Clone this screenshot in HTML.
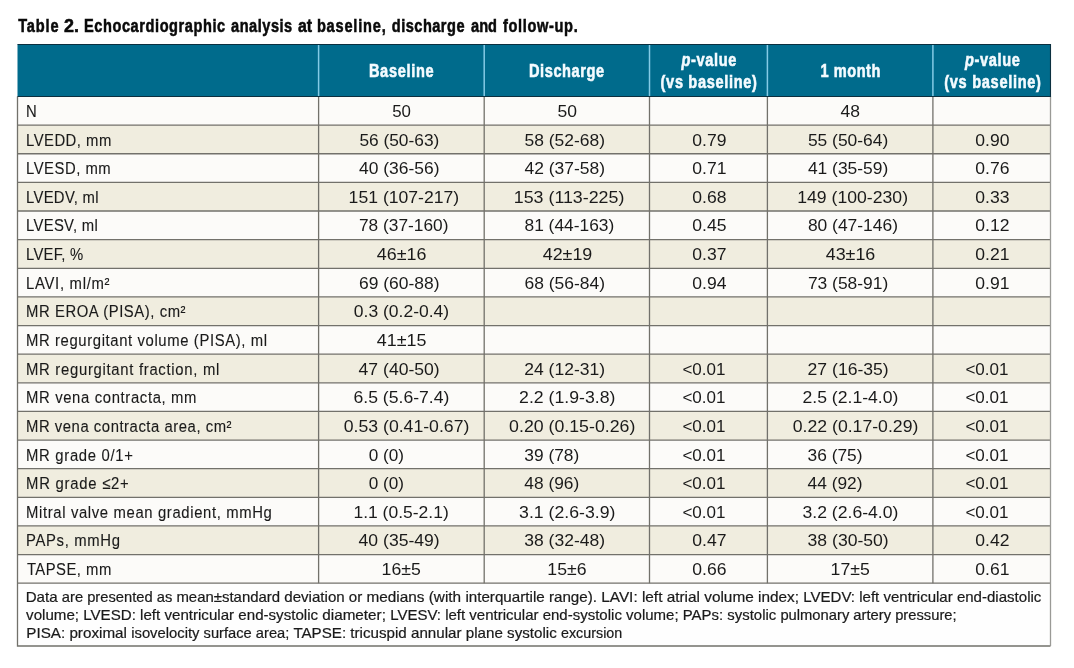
<!DOCTYPE html>
<html lang="en"><head><meta charset="utf-8"><title>Table 2. Echocardiographic analysis</title>
<style>
html,body{margin:0;padding:0;background:#fff;width:1074px;height:668px;overflow:hidden}
svg{display:block;font-family:"Liberation Sans",Arial,sans-serif}
text{white-space:pre}
svg{will-change:transform}
</style></head><body>
<svg width="1074" height="668" viewBox="0 0 1074 668">
<rect x="0" y="0" width="1074" height="668" fill="#ffffff"/>
<rect x="17.5" y="96.50" width="1033.0" height="28.63" fill="#fcfbf9"/>
<rect x="17.5" y="125.13" width="1033.0" height="28.63" fill="#f0eddf"/>
<rect x="17.5" y="153.76" width="1033.0" height="28.63" fill="#fcfbf9"/>
<rect x="17.5" y="182.39" width="1033.0" height="28.63" fill="#f0eddf"/>
<rect x="17.5" y="211.02" width="1033.0" height="28.63" fill="#fcfbf9"/>
<rect x="17.5" y="239.65" width="1033.0" height="28.63" fill="#f0eddf"/>
<rect x="17.5" y="268.28" width="1033.0" height="28.63" fill="#fcfbf9"/>
<rect x="17.5" y="296.91" width="1033.0" height="28.63" fill="#f0eddf"/>
<rect x="17.5" y="325.54" width="1033.0" height="28.63" fill="#fcfbf9"/>
<rect x="17.5" y="354.16" width="1033.0" height="28.63" fill="#f0eddf"/>
<rect x="17.5" y="382.79" width="1033.0" height="28.63" fill="#fcfbf9"/>
<rect x="17.5" y="411.42" width="1033.0" height="28.63" fill="#f0eddf"/>
<rect x="17.5" y="440.05" width="1033.0" height="28.63" fill="#fcfbf9"/>
<rect x="17.5" y="468.68" width="1033.0" height="28.63" fill="#f0eddf"/>
<rect x="17.5" y="497.31" width="1033.0" height="28.63" fill="#fcfbf9"/>
<rect x="17.5" y="525.94" width="1033.0" height="28.63" fill="#f0eddf"/>
<rect x="17.5" y="554.57" width="1033.0" height="28.63" fill="#fcfbf9"/>
<rect x="17.5" y="583.20" width="1033.0" height="62.80" fill="#fefefe"/>
<rect x="17.5" y="44.5" width="1033.0" height="52.0" fill="#006b8c"/>
<line x1="17.5" y1="125.13" x2="1050.5" y2="125.13" stroke="#72716b" stroke-width="1.3"/>
<line x1="17.5" y1="153.76" x2="1050.5" y2="153.76" stroke="#72716b" stroke-width="1.3"/>
<line x1="17.5" y1="182.39" x2="1050.5" y2="182.39" stroke="#72716b" stroke-width="1.3"/>
<line x1="17.5" y1="211.02" x2="1050.5" y2="211.02" stroke="#72716b" stroke-width="1.3"/>
<line x1="17.5" y1="239.65" x2="1050.5" y2="239.65" stroke="#72716b" stroke-width="1.3"/>
<line x1="17.5" y1="268.28" x2="1050.5" y2="268.28" stroke="#72716b" stroke-width="1.3"/>
<line x1="17.5" y1="296.91" x2="1050.5" y2="296.91" stroke="#72716b" stroke-width="1.3"/>
<line x1="17.5" y1="325.54" x2="1050.5" y2="325.54" stroke="#72716b" stroke-width="1.3"/>
<line x1="17.5" y1="354.16" x2="1050.5" y2="354.16" stroke="#72716b" stroke-width="1.3"/>
<line x1="17.5" y1="382.79" x2="1050.5" y2="382.79" stroke="#72716b" stroke-width="1.3"/>
<line x1="17.5" y1="411.42" x2="1050.5" y2="411.42" stroke="#72716b" stroke-width="1.3"/>
<line x1="17.5" y1="440.05" x2="1050.5" y2="440.05" stroke="#72716b" stroke-width="1.3"/>
<line x1="17.5" y1="468.68" x2="1050.5" y2="468.68" stroke="#72716b" stroke-width="1.3"/>
<line x1="17.5" y1="497.31" x2="1050.5" y2="497.31" stroke="#72716b" stroke-width="1.3"/>
<line x1="17.5" y1="525.94" x2="1050.5" y2="525.94" stroke="#72716b" stroke-width="1.3"/>
<line x1="17.5" y1="554.57" x2="1050.5" y2="554.57" stroke="#72716b" stroke-width="1.3"/>
<line x1="17.5" y1="583.20" x2="1050.5" y2="583.20" stroke="#72716b" stroke-width="1.3"/>
<line x1="318.6" y1="96.5" x2="318.6" y2="583.20" stroke="#72716b" stroke-width="1.3"/>
<line x1="318.6" y1="44.5" x2="318.6" y2="96.5" stroke="#84cbe6" stroke-width="1.5"/>
<line x1="484.2" y1="96.5" x2="484.2" y2="583.20" stroke="#72716b" stroke-width="1.3"/>
<line x1="484.2" y1="44.5" x2="484.2" y2="96.5" stroke="#84cbe6" stroke-width="1.5"/>
<line x1="649.5" y1="96.5" x2="649.5" y2="583.20" stroke="#72716b" stroke-width="1.3"/>
<line x1="649.5" y1="44.5" x2="649.5" y2="96.5" stroke="#84cbe6" stroke-width="1.5"/>
<line x1="767.4" y1="96.5" x2="767.4" y2="583.20" stroke="#72716b" stroke-width="1.3"/>
<line x1="767.4" y1="44.5" x2="767.4" y2="96.5" stroke="#84cbe6" stroke-width="1.5"/>
<line x1="932.9" y1="96.5" x2="932.9" y2="583.20" stroke="#72716b" stroke-width="1.3"/>
<line x1="932.9" y1="44.5" x2="932.9" y2="96.5" stroke="#84cbe6" stroke-width="1.5"/>
<path d="M1050.5 646.0 H17.5 V96.5" fill="none" stroke="#72716b" stroke-width="1.3"/>
<path d="M1050.5 96.5 V646.0" fill="none" stroke="#9a9a96" stroke-width="1.3"/>
<path d="M17.5 44.5 H1050.5 V96.5 H17.5" fill="none" stroke="#0b2f3f" stroke-width="1.1"/>
<text transform="translate(26.00,116.95) scale(0.9,1)" x="0" y="0" font-size="16.5" fill="#1a1a1a" stroke="#1a1a1a" stroke-width="0.12">N</text>
<text transform="translate(26.00,145.58) scale(0.9,1)" x="0" y="0" font-size="16.5" fill="#1a1a1a" stroke="#1a1a1a" stroke-width="0.12" textLength="94.74" lengthAdjust="spacing">LVEDD, mm</text>
<text transform="translate(26.00,174.21) scale(0.9,1)" x="0" y="0" font-size="16.5" fill="#1a1a1a" stroke="#1a1a1a" stroke-width="0.12" textLength="94.08" lengthAdjust="spacing">LVESD, mm</text>
<text transform="translate(26.00,202.84) scale(0.9,1)" x="0" y="0" font-size="16.5" fill="#1a1a1a" stroke="#1a1a1a" stroke-width="0.12" textLength="80.67" lengthAdjust="spacing">LVEDV, ml</text>
<text transform="translate(26.00,231.47) scale(0.9,1)" x="0" y="0" font-size="16.5" fill="#1a1a1a" stroke="#1a1a1a" stroke-width="0.12" textLength="79.78" lengthAdjust="spacing">LVESV, ml</text>
<text transform="translate(26.00,260.10) scale(0.9,1)" x="0" y="0" font-size="16.5" fill="#1a1a1a" stroke="#1a1a1a" stroke-width="0.12" textLength="63.56" lengthAdjust="spacing">LVEF, %</text>
<text transform="translate(26.00,288.73) scale(0.9,1)" x="0" y="0" font-size="16.5" fill="#1a1a1a" stroke="#1a1a1a" stroke-width="0.12" textLength="92.83" lengthAdjust="spacing">LAVI, ml/m²</text>
<text transform="translate(26.00,317.36) scale(0.9,1)" x="0" y="0" font-size="16.5" fill="#1a1a1a" stroke="#1a1a1a" stroke-width="0.12" textLength="177.27" lengthAdjust="spacing">MR EROA (PISA), cm²</text>
<text transform="translate(26.00,345.99) scale(0.9,1)" x="0" y="0" font-size="16.5" fill="#1a1a1a" stroke="#1a1a1a" stroke-width="0.12" textLength="267.78" lengthAdjust="spacing">MR regurgitant volume (PISA), ml</text>
<text transform="translate(26.00,374.61) scale(0.9,1)" x="0" y="0" font-size="16.5" fill="#1a1a1a" stroke="#1a1a1a" stroke-width="0.12" textLength="214.78" lengthAdjust="spacing">MR regurgitant fraction, ml</text>
<text transform="translate(26.00,403.24) scale(0.9,1)" x="0" y="0" font-size="16.5" fill="#1a1a1a" stroke="#1a1a1a" stroke-width="0.12" textLength="189.41" lengthAdjust="spacing">MR vena contracta, mm</text>
<text transform="translate(26.00,431.87) scale(0.9,1)" x="0" y="0" font-size="16.5" fill="#1a1a1a" stroke="#1a1a1a" stroke-width="0.12" textLength="228.38" lengthAdjust="spacing">MR vena contracta area, cm²</text>
<text transform="translate(26.00,460.50) scale(0.9,1)" x="0" y="0" font-size="16.5" fill="#1a1a1a" stroke="#1a1a1a" stroke-width="0.12" textLength="118.86" lengthAdjust="spacing">MR grade 0/1+</text>
<text transform="translate(26.00,489.13) scale(0.9,1)" x="0" y="0" font-size="16.5" fill="#1a1a1a" stroke="#1a1a1a" stroke-width="0.12" textLength="114.19" lengthAdjust="spacing">MR grade ≤2+</text>
<text transform="translate(26.00,517.76) scale(0.9,1)" x="0" y="0" font-size="16.5" fill="#1a1a1a" stroke="#1a1a1a" stroke-width="0.12" textLength="273.18" lengthAdjust="spacing">Mitral valve mean gradient, mmHg</text>
<text transform="translate(26.00,546.39) scale(0.9,1)" x="0" y="0" font-size="16.5" fill="#1a1a1a" stroke="#1a1a1a" stroke-width="0.12" textLength="104.40" lengthAdjust="spacing">PAPs, mmHg</text>
<text transform="translate(26.90,575.02) scale(0.9,1)" x="0" y="0" font-size="16.5" fill="#1a1a1a" stroke="#1a1a1a" stroke-width="0.12" textLength="93.74" lengthAdjust="spacing">TAPSE, mm</text>
<text x="392.20" y="116.95" font-size="16.5" fill="#1a1a1a" textLength="18.78" lengthAdjust="spacingAndGlyphs">50</text>
<text x="359.40" y="145.58" font-size="16.5" fill="#1a1a1a" textLength="79.92" lengthAdjust="spacingAndGlyphs">56 (50-63)</text>
<text x="359.00" y="174.21" font-size="16.5" fill="#1a1a1a" textLength="80.52" lengthAdjust="spacingAndGlyphs">40 (36-56)</text>
<text x="348.63" y="202.84" font-size="16.5" fill="#1a1a1a" textLength="110.59" lengthAdjust="spacingAndGlyphs">151 (107-217)</text>
<text x="359.00" y="231.47" font-size="16.5" fill="#1a1a1a" textLength="89.42" lengthAdjust="spacingAndGlyphs">78 (37-160)</text>
<text x="376.80" y="260.10" font-size="16.5" fill="#1a1a1a" textLength="49.59" lengthAdjust="spacingAndGlyphs">46±16</text>
<text x="359.00" y="288.73" font-size="16.5" fill="#1a1a1a" textLength="80.52" lengthAdjust="spacingAndGlyphs">69 (60-88)</text>
<text x="353.80" y="317.36" font-size="16.5" fill="#1a1a1a" textLength="95.32" lengthAdjust="spacingAndGlyphs">0.3 (0.2-0.4)</text>
<text x="376.80" y="345.99" font-size="16.5" fill="#1a1a1a" textLength="49.59" lengthAdjust="spacingAndGlyphs">41±15</text>
<text x="358.60" y="374.61" font-size="16.5" fill="#1a1a1a" textLength="81.13" lengthAdjust="spacingAndGlyphs">47 (40-50)</text>
<text x="353.50" y="403.24" font-size="16.5" fill="#1a1a1a" textLength="95.93" lengthAdjust="spacingAndGlyphs">6.5 (5.6-7.4)</text>
<text x="343.80" y="431.87" font-size="16.5" fill="#1a1a1a" textLength="125.53" lengthAdjust="spacingAndGlyphs">0.53 (0.41-0.67)</text>
<text x="368.70" y="460.50" font-size="16.5" fill="#1a1a1a" textLength="35.31" lengthAdjust="spacingAndGlyphs">0 (0)</text>
<text x="368.70" y="489.13" font-size="16.5" fill="#1a1a1a" textLength="35.31" lengthAdjust="spacingAndGlyphs">0 (0)</text>
<text x="353.44" y="517.76" font-size="16.5" fill="#1a1a1a" textLength="95.28" lengthAdjust="spacingAndGlyphs">1.1 (0.5-2.1)</text>
<text x="358.60" y="546.39" font-size="16.5" fill="#1a1a1a" textLength="81.13" lengthAdjust="spacingAndGlyphs">40 (35-49)</text>
<text x="381.63" y="575.02" font-size="16.5" fill="#1a1a1a" textLength="39.16" lengthAdjust="spacingAndGlyphs">16±5</text>
<text x="557.40" y="116.95" font-size="16.5" fill="#1a1a1a" textLength="19.49" lengthAdjust="spacingAndGlyphs">50</text>
<text x="524.50" y="145.58" font-size="16.5" fill="#1a1a1a" textLength="80.52" lengthAdjust="spacingAndGlyphs">58 (52-68)</text>
<text x="524.50" y="174.21" font-size="16.5" fill="#1a1a1a" textLength="80.52" lengthAdjust="spacingAndGlyphs">42 (37-58)</text>
<text x="513.82" y="202.84" font-size="16.5" fill="#1a1a1a" textLength="110.51" lengthAdjust="spacingAndGlyphs">153 (113-225)</text>
<text x="524.50" y="231.47" font-size="16.5" fill="#1a1a1a" textLength="89.72" lengthAdjust="spacingAndGlyphs">81 (44-163)</text>
<text x="542.70" y="260.10" font-size="16.5" fill="#1a1a1a" textLength="49.59" lengthAdjust="spacingAndGlyphs">42±19</text>
<text x="524.50" y="288.73" font-size="16.5" fill="#1a1a1a" textLength="80.52" lengthAdjust="spacingAndGlyphs">68 (56-84)</text>
<text x="524.30" y="374.61" font-size="16.5" fill="#1a1a1a" textLength="80.72" lengthAdjust="spacingAndGlyphs">24 (12-31)</text>
<text x="519.10" y="403.24" font-size="16.5" fill="#1a1a1a" textLength="96.33" lengthAdjust="spacingAndGlyphs">2.2 (1.9-3.8)</text>
<text x="509.10" y="431.87" font-size="16.5" fill="#1a1a1a" textLength="126.23" lengthAdjust="spacingAndGlyphs">0.20 (0.15-0.26)</text>
<text x="524.30" y="460.50" font-size="16.5" fill="#1a1a1a" textLength="54.92" lengthAdjust="spacingAndGlyphs">39 (78)</text>
<text x="524.30" y="489.13" font-size="16.5" fill="#1a1a1a" textLength="54.92" lengthAdjust="spacingAndGlyphs">48 (96)</text>
<text x="519.10" y="517.76" font-size="16.5" fill="#1a1a1a" textLength="96.33" lengthAdjust="spacingAndGlyphs">3.1 (2.6-3.9)</text>
<text x="524.30" y="546.39" font-size="16.5" fill="#1a1a1a" textLength="80.72" lengthAdjust="spacingAndGlyphs">38 (32-48)</text>
<text x="547.33" y="575.02" font-size="16.5" fill="#1a1a1a" textLength="39.16" lengthAdjust="spacingAndGlyphs">15±6</text>
<text x="692.30" y="145.58" font-size="16.5" fill="#1a1a1a" textLength="34.19" lengthAdjust="spacingAndGlyphs">0.79</text>
<text x="692.30" y="174.21" font-size="16.5" fill="#1a1a1a" textLength="34.19" lengthAdjust="spacingAndGlyphs">0.71</text>
<text x="692.30" y="202.84" font-size="16.5" fill="#1a1a1a" textLength="34.19" lengthAdjust="spacingAndGlyphs">0.68</text>
<text x="692.30" y="231.47" font-size="16.5" fill="#1a1a1a" textLength="34.19" lengthAdjust="spacingAndGlyphs">0.45</text>
<text x="692.30" y="260.10" font-size="16.5" fill="#1a1a1a" textLength="34.19" lengthAdjust="spacingAndGlyphs">0.37</text>
<text x="692.30" y="288.73" font-size="16.5" fill="#1a1a1a" textLength="34.19" lengthAdjust="spacingAndGlyphs">0.94</text>
<text x="682.40" y="374.61" font-size="16.5" fill="#1a1a1a" textLength="43.08" lengthAdjust="spacingAndGlyphs">&lt;0.01</text>
<text x="682.40" y="403.24" font-size="16.5" fill="#1a1a1a" textLength="43.08" lengthAdjust="spacingAndGlyphs">&lt;0.01</text>
<text x="682.40" y="431.87" font-size="16.5" fill="#1a1a1a" textLength="43.08" lengthAdjust="spacingAndGlyphs">&lt;0.01</text>
<text x="682.40" y="460.50" font-size="16.5" fill="#1a1a1a" textLength="43.08" lengthAdjust="spacingAndGlyphs">&lt;0.01</text>
<text x="682.40" y="489.13" font-size="16.5" fill="#1a1a1a" textLength="43.08" lengthAdjust="spacingAndGlyphs">&lt;0.01</text>
<text x="682.40" y="517.76" font-size="16.5" fill="#1a1a1a" textLength="43.08" lengthAdjust="spacingAndGlyphs">&lt;0.01</text>
<text x="692.30" y="546.39" font-size="16.5" fill="#1a1a1a" textLength="34.19" lengthAdjust="spacingAndGlyphs">0.47</text>
<text x="692.30" y="575.02" font-size="16.5" fill="#1a1a1a" textLength="34.19" lengthAdjust="spacingAndGlyphs">0.66</text>
<text x="840.40" y="116.95" font-size="16.5" fill="#1a1a1a" textLength="19.49" lengthAdjust="spacingAndGlyphs">48</text>
<text x="807.90" y="145.58" font-size="16.5" fill="#1a1a1a" textLength="80.42" lengthAdjust="spacingAndGlyphs">55 (50-64)</text>
<text x="807.90" y="174.21" font-size="16.5" fill="#1a1a1a" textLength="80.42" lengthAdjust="spacingAndGlyphs">41 (35-59)</text>
<text x="797.23" y="202.84" font-size="16.5" fill="#1a1a1a" textLength="110.80" lengthAdjust="spacingAndGlyphs">149 (100-230)</text>
<text x="807.90" y="231.47" font-size="16.5" fill="#1a1a1a" textLength="90.12" lengthAdjust="spacingAndGlyphs">80 (47-146)</text>
<text x="825.70" y="260.10" font-size="16.5" fill="#1a1a1a" textLength="49.59" lengthAdjust="spacingAndGlyphs">43±16</text>
<text x="807.90" y="288.73" font-size="16.5" fill="#1a1a1a" textLength="80.42" lengthAdjust="spacingAndGlyphs">73 (58-91)</text>
<text x="807.60" y="374.61" font-size="16.5" fill="#1a1a1a" textLength="81.13" lengthAdjust="spacingAndGlyphs">27 (16-35)</text>
<text x="802.50" y="403.24" font-size="16.5" fill="#1a1a1a" textLength="95.93" lengthAdjust="spacingAndGlyphs">2.5 (2.1-4.0)</text>
<text x="792.80" y="431.87" font-size="16.5" fill="#1a1a1a" textLength="125.53" lengthAdjust="spacingAndGlyphs">0.22 (0.17-0.29)</text>
<text x="807.60" y="460.50" font-size="16.5" fill="#1a1a1a" textLength="54.92" lengthAdjust="spacingAndGlyphs">36 (75)</text>
<text x="807.60" y="489.13" font-size="16.5" fill="#1a1a1a" textLength="54.92" lengthAdjust="spacingAndGlyphs">44 (92)</text>
<text x="802.50" y="517.76" font-size="16.5" fill="#1a1a1a" textLength="95.93" lengthAdjust="spacingAndGlyphs">3.2 (2.6-4.0)</text>
<text x="807.60" y="546.39" font-size="16.5" fill="#1a1a1a" textLength="81.13" lengthAdjust="spacingAndGlyphs">38 (30-50)</text>
<text x="830.63" y="575.02" font-size="16.5" fill="#1a1a1a" textLength="39.16" lengthAdjust="spacingAndGlyphs">17±5</text>
<text x="975.30" y="145.58" font-size="16.5" fill="#1a1a1a" textLength="34.19" lengthAdjust="spacingAndGlyphs">0.90</text>
<text x="975.30" y="174.21" font-size="16.5" fill="#1a1a1a" textLength="34.19" lengthAdjust="spacingAndGlyphs">0.76</text>
<text x="975.30" y="202.84" font-size="16.5" fill="#1a1a1a" textLength="34.19" lengthAdjust="spacingAndGlyphs">0.33</text>
<text x="975.30" y="231.47" font-size="16.5" fill="#1a1a1a" textLength="34.19" lengthAdjust="spacingAndGlyphs">0.12</text>
<text x="975.30" y="260.10" font-size="16.5" fill="#1a1a1a" textLength="34.19" lengthAdjust="spacingAndGlyphs">0.21</text>
<text x="975.30" y="288.73" font-size="16.5" fill="#1a1a1a" textLength="34.19" lengthAdjust="spacingAndGlyphs">0.91</text>
<text x="965.40" y="374.61" font-size="16.5" fill="#1a1a1a" textLength="43.08" lengthAdjust="spacingAndGlyphs">&lt;0.01</text>
<text x="965.40" y="403.24" font-size="16.5" fill="#1a1a1a" textLength="43.08" lengthAdjust="spacingAndGlyphs">&lt;0.01</text>
<text x="965.40" y="431.87" font-size="16.5" fill="#1a1a1a" textLength="43.08" lengthAdjust="spacingAndGlyphs">&lt;0.01</text>
<text x="965.40" y="460.50" font-size="16.5" fill="#1a1a1a" textLength="43.08" lengthAdjust="spacingAndGlyphs">&lt;0.01</text>
<text x="965.40" y="489.13" font-size="16.5" fill="#1a1a1a" textLength="43.08" lengthAdjust="spacingAndGlyphs">&lt;0.01</text>
<text x="965.40" y="517.76" font-size="16.5" fill="#1a1a1a" textLength="43.08" lengthAdjust="spacingAndGlyphs">&lt;0.01</text>
<text x="975.30" y="546.39" font-size="16.5" fill="#1a1a1a" textLength="34.19" lengthAdjust="spacingAndGlyphs">0.42</text>
<text x="975.30" y="575.02" font-size="16.5" fill="#1a1a1a" textLength="34.19" lengthAdjust="spacingAndGlyphs">0.61</text>
<text transform="translate(368.92,77.20) scale(0.78,1)" x="0" y="0" font-size="18.7" fill="#f4fbff" font-weight="bold" stroke="#f4fbff" stroke-width="0.6" textLength="82.93" lengthAdjust="spacing">Baseline</text>
<text transform="translate(528.92,77.20) scale(0.78,1)" x="0" y="0" font-size="18.7" fill="#f4fbff" font-weight="bold" stroke="#f4fbff" stroke-width="0.6" textLength="96.52" lengthAdjust="spacing">Discharge</text>
<text transform="translate(820.62,77.20) scale(0.78,1)" x="0" y="0" font-size="18.7" fill="#f4fbff" font-weight="bold" stroke="#f4fbff" stroke-width="0.6" textLength="76.54" lengthAdjust="spacing">1 month</text>
<text transform="translate(681.48,65.70) scale(0.78,1)" x="0" y="0" font-size="18.7" fill="#f4fbff" stroke="#f4fbff" stroke-width="0.6" textLength="70.29" lengthAdjust="spacing"><tspan font-weight="bold" font-style="italic">p</tspan><tspan font-weight="bold">-value</tspan></text>
<text transform="translate(660.60,88.00) scale(0.78,1)" x="0" y="0" font-size="18.7" fill="#f4fbff" font-weight="bold" stroke="#f4fbff" stroke-width="0.6" textLength="123.43" lengthAdjust="spacing">(vs baseline)</text>
<text transform="translate(965.08,65.70) scale(0.78,1)" x="0" y="0" font-size="18.7" fill="#f4fbff" stroke="#f4fbff" stroke-width="0.6" textLength="70.29" lengthAdjust="spacing"><tspan font-weight="bold" font-style="italic">p</tspan><tspan font-weight="bold">-value</tspan></text>
<text transform="translate(944.20,88.00) scale(0.78,1)" x="0" y="0" font-size="18.7" fill="#f4fbff" font-weight="bold" stroke="#f4fbff" stroke-width="0.6" textLength="124.07" lengthAdjust="spacing">(vs baseline)</text>
<text transform="translate(18.20,31.80) scale(0.78,1)" x="0" y="0" font-size="18.7" fill="#0a0a0a" font-weight="bold" stroke="#0a0a0a" stroke-width="0.55" textLength="51.68" lengthAdjust="spacing">Table</text>
<text transform="translate(64.10,31.80) scale(0.9588,1)" x="0" y="0" font-size="18.7" fill="#0a0a0a" font-weight="bold" stroke="#0a0a0a" stroke-width="0.55">2.</text>
<text transform="translate(84.02,31.80) scale(0.78,1)" x="0" y="0" font-size="18.7" fill="#0a0a0a" font-weight="bold" stroke="#0a0a0a" stroke-width="0.55" textLength="181.01" lengthAdjust="spacing">Echocardiographic</text>
<text transform="translate(231.00,31.80) scale(0.78,1)" x="0" y="0" font-size="18.7" fill="#0a0a0a" font-weight="bold" stroke="#0a0a0a" stroke-width="0.55" textLength="78.47" lengthAdjust="spacing">analysis</text>
<text transform="translate(297.90,31.80) scale(0.8479,1)" x="0" y="0" font-size="18.7" fill="#0a0a0a" font-weight="bold" stroke="#0a0a0a" stroke-width="0.55">at</text>
<text transform="translate(316.92,31.80) scale(0.78,1)" x="0" y="0" font-size="18.7" fill="#0a0a0a" font-weight="bold" stroke="#0a0a0a" stroke-width="0.55" textLength="88.22" lengthAdjust="spacing">baseline,</text>
<text transform="translate(391.80,31.80) scale(0.78,1)" x="0" y="0" font-size="18.7" fill="#0a0a0a" font-weight="bold" stroke="#0a0a0a" stroke-width="0.55" textLength="93.21" lengthAdjust="spacing">discharge</text>
<text transform="translate(471.10,31.80) scale(0.78,1)" x="0" y="0" font-size="18.7" fill="#0a0a0a" font-weight="bold" stroke="#0a0a0a" stroke-width="0.55" textLength="33.11" lengthAdjust="spacing">and</text>
<text transform="translate(502.90,31.80) scale(0.78,1)" x="0" y="0" font-size="18.7" fill="#0a0a0a" font-weight="bold" stroke="#0a0a0a" stroke-width="0.55" textLength="95.94" lengthAdjust="spacing">follow-up.</text>
<text x="25.66" y="602.40" font-size="14.5" fill="#1a1a1a" stroke="#1a1a1a" stroke-width="0.2" textLength="31.94" lengthAdjust="spacingAndGlyphs">Data</text>
<text x="61.80" y="602.40" font-size="14.5" fill="#1a1a1a" stroke="#1a1a1a" stroke-width="0.2" textLength="21.30" lengthAdjust="spacingAndGlyphs">are</text>
<text x="87.20" y="602.40" font-size="14.5" fill="#1a1a1a" stroke="#1a1a1a" stroke-width="0.2" textLength="65.47" lengthAdjust="spacingAndGlyphs">presented</text>
<text x="156.76" y="602.40" font-size="14.5" fill="#1a1a1a" stroke="#1a1a1a" stroke-width="0.2" textLength="15.55" lengthAdjust="spacingAndGlyphs">as</text>
<text x="176.40" y="602.40" font-size="14.5" fill="#1a1a1a" stroke="#1a1a1a" stroke-width="0.2" textLength="103.75" lengthAdjust="spacingAndGlyphs">mean±standard</text>
<text x="284.30" y="602.40" font-size="14.5" fill="#1a1a1a" stroke="#1a1a1a" stroke-width="0.2" textLength="60.40" lengthAdjust="spacingAndGlyphs">deviation</text>
<text x="348.89" y="602.40" font-size="14.5" fill="#1a1a1a" stroke="#1a1a1a" stroke-width="0.2" textLength="13.42" lengthAdjust="spacingAndGlyphs">or</text>
<text x="366.50" y="602.40" font-size="14.5" fill="#1a1a1a" stroke="#1a1a1a" stroke-width="0.2" textLength="57.99" lengthAdjust="spacingAndGlyphs">medians</text>
<text x="428.75" y="602.40" font-size="14.5" fill="#1a1a1a" stroke="#1a1a1a" stroke-width="0.2" textLength="32.39" lengthAdjust="spacingAndGlyphs">(with</text>
<text x="465.40" y="602.40" font-size="14.5" fill="#1a1a1a" stroke="#1a1a1a" stroke-width="0.2" textLength="79.32" lengthAdjust="spacingAndGlyphs">interquartile</text>
<text x="548.94" y="602.40" font-size="14.5" fill="#1a1a1a" stroke="#1a1a1a" stroke-width="0.2" textLength="48.10" lengthAdjust="spacingAndGlyphs">range).</text>
<text x="601.24" y="602.40" font-size="14.5" fill="#1a1a1a" stroke="#1a1a1a" stroke-width="0.2" textLength="36.42" lengthAdjust="spacingAndGlyphs">LAVI:</text>
<text x="641.93" y="602.40" font-size="14.5" fill="#1a1a1a" stroke="#1a1a1a" stroke-width="0.2" textLength="20.48" lengthAdjust="spacingAndGlyphs">left</text>
<text x="666.68" y="602.40" font-size="14.5" fill="#1a1a1a" stroke="#1a1a1a" stroke-width="0.2" textLength="33.28" lengthAdjust="spacingAndGlyphs">atrial</text>
<text x="704.23" y="602.40" font-size="14.5" fill="#1a1a1a" stroke="#1a1a1a" stroke-width="0.2" textLength="49.50" lengthAdjust="spacingAndGlyphs">volume</text>
<text x="758.00" y="602.40" font-size="14.5" fill="#1a1a1a" stroke="#1a1a1a" stroke-width="0.2" textLength="40.98" lengthAdjust="spacingAndGlyphs">index;</text>
<text x="803.26" y="602.40" font-size="14.5" fill="#1a1a1a" stroke="#1a1a1a" stroke-width="0.2" textLength="51.77" lengthAdjust="spacingAndGlyphs">LVEDV:</text>
<text x="859.21" y="602.40" font-size="14.5" fill="#1a1a1a" stroke="#1a1a1a" stroke-width="0.2" textLength="20.04" lengthAdjust="spacingAndGlyphs">left</text>
<text x="883.42" y="602.40" font-size="14.5" fill="#1a1a1a" stroke="#1a1a1a" stroke-width="0.2" textLength="69.30" lengthAdjust="spacingAndGlyphs">ventricular</text>
<text x="956.90" y="602.40" font-size="14.5" fill="#1a1a1a" stroke="#1a1a1a" stroke-width="0.2" textLength="84.46" lengthAdjust="spacingAndGlyphs">end-diastolic</text>
<text x="26.10" y="620.00" font-size="14.5" fill="#1a1a1a" stroke="#1a1a1a" stroke-width="0.2" textLength="52.96" lengthAdjust="spacingAndGlyphs">volume;</text>
<text x="83.26" y="620.00" font-size="14.5" fill="#1a1a1a" stroke="#1a1a1a" stroke-width="0.2" textLength="52.62" lengthAdjust="spacingAndGlyphs">LVESD:</text>
<text x="140.08" y="620.00" font-size="14.5" fill="#1a1a1a" stroke="#1a1a1a" stroke-width="0.2" textLength="20.16" lengthAdjust="spacingAndGlyphs">left</text>
<text x="164.43" y="620.00" font-size="14.5" fill="#1a1a1a" stroke="#1a1a1a" stroke-width="0.2" textLength="69.70" lengthAdjust="spacingAndGlyphs">ventricular</text>
<text x="238.33" y="620.00" font-size="14.5" fill="#1a1a1a" stroke="#1a1a1a" stroke-width="0.2" textLength="79.77" lengthAdjust="spacingAndGlyphs">end-systolic</text>
<text x="322.30" y="620.00" font-size="14.5" fill="#1a1a1a" stroke="#1a1a1a" stroke-width="0.2" textLength="63.61" lengthAdjust="spacingAndGlyphs">diameter;</text>
<text x="390.17" y="620.00" font-size="14.5" fill="#1a1a1a" stroke="#1a1a1a" stroke-width="0.2" textLength="50.85" lengthAdjust="spacingAndGlyphs">LVESV:</text>
<text x="445.18" y="620.00" font-size="14.5" fill="#1a1a1a" stroke="#1a1a1a" stroke-width="0.2" textLength="20.01" lengthAdjust="spacingAndGlyphs">left</text>
<text x="469.35" y="620.00" font-size="14.5" fill="#1a1a1a" stroke="#1a1a1a" stroke-width="0.2" textLength="69.18" lengthAdjust="spacingAndGlyphs">ventricular</text>
<text x="542.70" y="620.00" font-size="14.5" fill="#1a1a1a" stroke="#1a1a1a" stroke-width="0.2" textLength="79.20" lengthAdjust="spacingAndGlyphs">end-systolic</text>
<text x="626.07" y="620.00" font-size="14.5" fill="#1a1a1a" stroke="#1a1a1a" stroke-width="0.2" textLength="52.53" lengthAdjust="spacingAndGlyphs">volume;</text>
<text x="682.77" y="620.00" font-size="14.5" fill="#1a1a1a" stroke="#1a1a1a" stroke-width="0.2" textLength="40.38" lengthAdjust="spacingAndGlyphs">PAPs:</text>
<text x="727.30" y="620.00" font-size="14.5" fill="#1a1a1a" stroke="#1a1a1a" stroke-width="0.2" textLength="48.95" lengthAdjust="spacingAndGlyphs">systolic</text>
<text x="780.40" y="620.00" font-size="14.5" fill="#1a1a1a" stroke="#1a1a1a" stroke-width="0.2" textLength="68.87" lengthAdjust="spacingAndGlyphs">pulmonary</text>
<text x="853.36" y="620.00" font-size="14.5" fill="#1a1a1a" stroke="#1a1a1a" stroke-width="0.2" textLength="37.70" lengthAdjust="spacingAndGlyphs">artery</text>
<text x="895.16" y="620.00" font-size="14.5" fill="#1a1a1a" stroke="#1a1a1a" stroke-width="0.2" textLength="61.48" lengthAdjust="spacingAndGlyphs">pressure;</text>
<text x="26.25" y="637.90" font-size="14.5" fill="#1a1a1a" stroke="#1a1a1a" stroke-width="0.2" textLength="38.94" lengthAdjust="spacingAndGlyphs">PISA:</text>
<text x="69.42" y="637.90" font-size="14.5" fill="#1a1a1a" stroke="#1a1a1a" stroke-width="0.2" textLength="57.55" lengthAdjust="spacingAndGlyphs">proximal</text>
<text x="131.20" y="637.90" font-size="14.5" fill="#1a1a1a" stroke="#1a1a1a" stroke-width="0.2" textLength="68.29" lengthAdjust="spacingAndGlyphs">isovelocity</text>
<text x="203.60" y="637.90" font-size="14.5" fill="#1a1a1a" stroke="#1a1a1a" stroke-width="0.2" textLength="48.16" lengthAdjust="spacingAndGlyphs">surface</text>
<text x="255.84" y="637.90" font-size="14.5" fill="#1a1a1a" stroke="#1a1a1a" stroke-width="0.2" textLength="33.48" lengthAdjust="spacingAndGlyphs">area;</text>
<text x="293.40" y="637.90" font-size="14.5" fill="#1a1a1a" stroke="#1a1a1a" stroke-width="0.2" textLength="52.76" lengthAdjust="spacingAndGlyphs">TAPSE:</text>
<text x="350.37" y="637.90" font-size="14.5" fill="#1a1a1a" stroke="#1a1a1a" stroke-width="0.2" textLength="56.42" lengthAdjust="spacingAndGlyphs">tricuspid</text>
<text x="411.00" y="637.90" font-size="14.5" fill="#1a1a1a" stroke="#1a1a1a" stroke-width="0.2" textLength="50.57" lengthAdjust="spacingAndGlyphs">annular</text>
<text x="465.78" y="637.90" font-size="14.5" fill="#1a1a1a" stroke="#1a1a1a" stroke-width="0.2" textLength="37.09" lengthAdjust="spacingAndGlyphs">plane</text>
<text x="507.09" y="637.90" font-size="14.5" fill="#1a1a1a" stroke="#1a1a1a" stroke-width="0.2" textLength="49.70" lengthAdjust="spacingAndGlyphs">systolic</text>
<text x="561.00" y="637.90" font-size="14.5" fill="#1a1a1a" stroke="#1a1a1a" stroke-width="0.2" textLength="61.26" lengthAdjust="spacingAndGlyphs">excursion</text>
</svg>
</body></html>
